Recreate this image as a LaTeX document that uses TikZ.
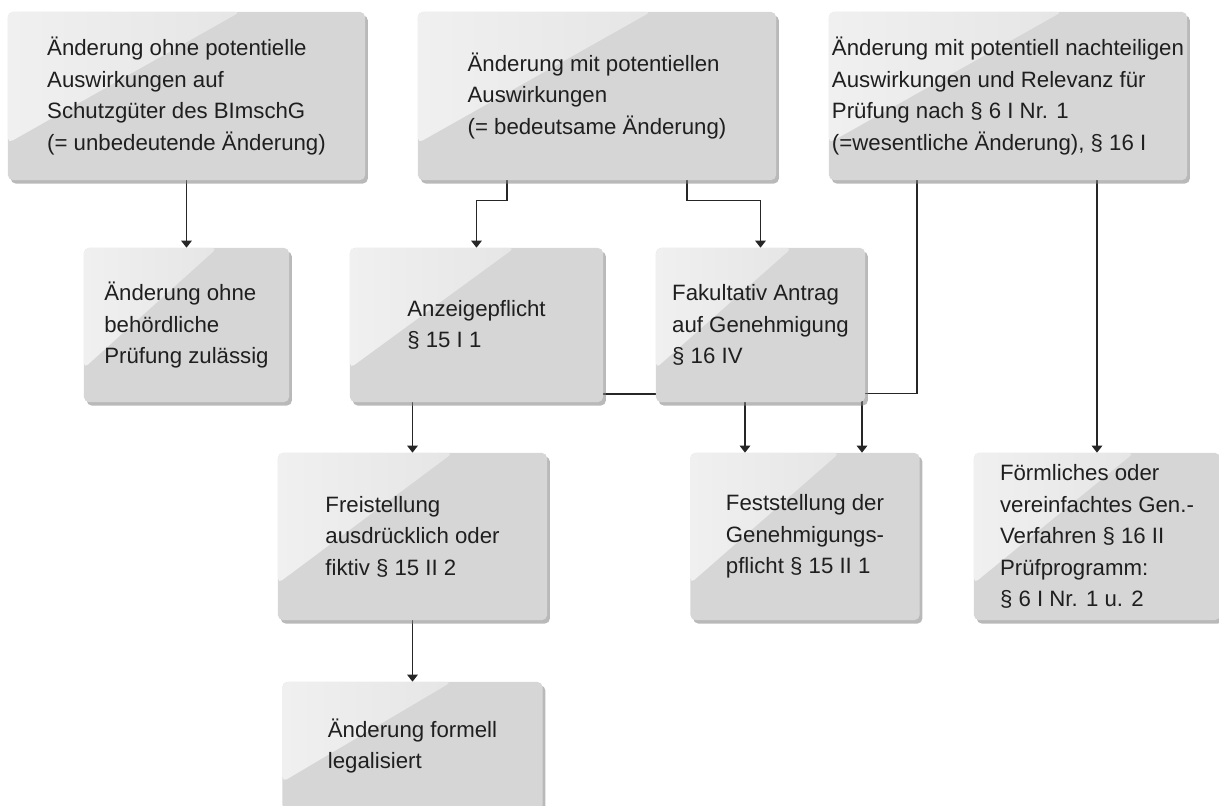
\documentclass[tikz,border=0pt]{standalone}
\usepackage{fontspec}
\setmainfont{Liberation Sans}
\usepackage{xcolor}
\usetikzlibrary{arrows.meta, calc, shadows, backgrounds}
\definecolor{boxgray}{HTML}{D6D6D6}
\definecolor{glosslight}{HTML}{F0F0F0}
\definecolor{glossdark}{HTML}{E0E0E0}

\begin{document}
\begin{tikzpicture}[x=0.025cm, y=-0.025cm, >={Triangle[width=7.5pt, length=5pt]},
  box/.style={fill=boxgray, rounded corners=3.5pt, align=left, inner sep=2pt, text=black!88, font=\fontsize{15.8}{22.4}\selectfont,
    drop shadow={shadow xshift=2pt, shadow yshift=-2.5pt, opacity=0.55},
    path picture={\shade[left color=glosslight, right color=glossdark] (path picture bounding box.north west) -- ($(path picture bounding box.north west)!0.65!(path picture bounding box.north east)$) -- ($(path picture bounding box.north west)!0.78!(path picture bounding box.south west)$) -- cycle;}},
  conn/.style={->, line width=0.9pt, black!85}]
  \useasboundingbox (0,0) rectangle (1219,805);
  % top row
  \node[box, minimum width=8.925cm, minimum height=4.2cm] (minor) at (186.5,96) {Änderung ohne potentielle\\Auswirkungen auf\\Schutzgüter des BImschG\\(= unbedeutende Änderung)};
  \node[box, minimum width=8.95cm, minimum height=4.2cm] (modchg) at (597,96) {Änderung mit potentiellen\\Auswirkungen\\(= bedeutsame Änderung)};
  \node[box, minimum width=8.95cm, minimum height=4.2cm] (sigchg) at (1008,96) {Änderung mit potentiell nachteiligen\\Auswirkungen und Relevanz für\\Prüfung nach § 6 I Nr. 1\\(=wesentliche Änderung), § 16 I};
  % middle row
  \node[box, minimum width=5.125cm, minimum height=3.85cm] (noreview) at (186.5,325) {Änderung ohne\\behördliche\\Prüfung zulässig};
  \node[box, minimum width=6.325cm, minimum height=3.85cm] (notify) at (476.5,325) {Anzeigepflicht\\§ 15 I 1};
  \node[box, minimum width=5.225cm, minimum height=3.85cm] (optappl) at (760.5,325) {Fakultativ Antrag\\auf Genehmigung\\§ 16 IV};
  % lower rows
  \node[box, minimum width=6.725cm, minimum height=4.175cm] (exempt) at (412.5,536.5) {Freistellung\\ausdrücklich oder\\fiktiv § 15 II 2};
  \node[box, minimum width=5.725cm, minimum height=4.175cm] (determ) at (805,536.5) {Feststellung der\\Genehmigungs-\\pflicht § 15 II 1};
  \node[box, minimum width=6.15cm, minimum height=4.175cm] (formal) at (1097,536.5) {Förmliches oder\\vereinfachtes Gen.-\\Verfahren § 16 II\\Prüfprogramm:\\§ 6 I Nr. 1 u. 2};
  \node[box, minimum width=6.5cm, minimum height=3.2cm] (legal) at (412.5,746) {Änderung formell\\legalisiert};
  % connectors
  \begin{scope}[on background layer]
    \draw[conn] (minor.south) -- (noreview.north);
    \draw[conn] ($(modchg.south)+(-90,0)$) -- ++(0,20) -| (notify.north);
    \draw[conn] ($(modchg.south)+(90,0)$) -- ++(0,20) -| (optappl.north);
    \draw[conn] ($(sigchg.south)+(-91,0)$) |- ($(determ.north)+(57,-59)$) -- ($(determ.north)+(57,0)$);
    \draw[conn] ($(notify.east)+(0,69)$) -| ($(determ.north)+(-60,0)$);
    \draw[conn] (formal.north |- sigchg.south) -- (formal.north);
    \draw[conn] (exempt.north |- notify.south) -- (exempt.north);
    \draw[conn] (exempt.south) -- (legal.north);
  \end{scope}
\end{tikzpicture}
\end{document}
